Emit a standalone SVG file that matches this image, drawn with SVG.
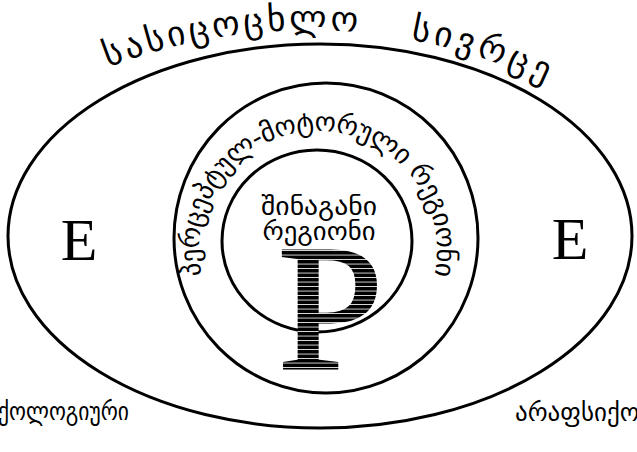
<svg xmlns="http://www.w3.org/2000/svg" width="637" height="452" viewBox="0 0 637 452">
<style>
.ring{fill:none;stroke:#000;stroke-width:3}
.geo{font-family:"DejaVu Sans","Noto Sans",sans-serif;fill:#000}
.big{font-family:"Liberation Serif","Times New Roman",serif;fill:#000}
</style>
<defs>
<pattern id="stripes" patternUnits="userSpaceOnUse" width="8" height="4.5">
<rect x="0" y="0" width="8" height="4.5" fill="#fff"/>
<rect x="0" y="0" width="8" height="3.7" fill="#000"/>
</pattern>
<path id="topArc" d="M60,88.7 A553,553 0 0 1 600,113.4"/>
<path id="midArc" d="M318,369 A119,119 0 0 1 318,131 A119,119 0 0 1 318,369"/>
</defs>
<rect width="637" height="452" fill="#fff"/>
<g id="life-space">
<ellipse class="ring" cx="320" cy="236" rx="312" ry="192"/>
<text class="geo" font-size="35"><textPath href="#topArc" startOffset="52.7" textLength="254" lengthAdjust="spacing">სასიცოცხლო</textPath></text>
<text class="geo" font-size="35"><textPath href="#topArc" startOffset="359.8" textLength="142" lengthAdjust="spacing">სივრცე</textPath></text>
</g>
<g id="perceptual-motor-region">
<ellipse class="ring" cx="326" cy="238" rx="152" ry="155"/>
<text class="geo" font-size="27" text-anchor="middle"><textPath href="#midArc" startOffset="373.8" textLength="425" lengthAdjust="spacing">პერცეპტულ-მოტორული რეგიონი</textPath></text>
</g>
<g id="inner-region">
<ellipse class="ring" cx="317" cy="241" rx="95" ry="91" stroke-width="2.6"/>
<text class="geo" font-size="26" x="319" y="215" text-anchor="middle" textLength="116" lengthAdjust="spacingAndGlyphs">შინაგანი</text>
<text class="geo" font-size="26" x="319" y="240" text-anchor="middle" textLength="113" lengthAdjust="spacingAndGlyphs">რეგიონი</text>
</g>
<g id="person">
<text class="big" font-size="178" transform="translate(278,368) scale(1.06,1)" style="fill:url(#stripes);stroke:url(#stripes);stroke-width:3">P</text>
</g>
<g id="environment-left">
<text class="big" font-size="60" x="79" y="260" text-anchor="middle">E</text>
</g>
<g id="environment-right">
<text class="big" font-size="60" x="570" y="259" text-anchor="middle">E</text>
</g>
<g id="labels">
<text class="geo" font-size="25" x="-2" y="420" textLength="131" lengthAdjust="spacingAndGlyphs">ქოლოგიური</text>
<text class="geo" font-size="25" x="515" y="421">არაფსიქოლ</text>
</g>
<g id="connectors"/>
</svg>
